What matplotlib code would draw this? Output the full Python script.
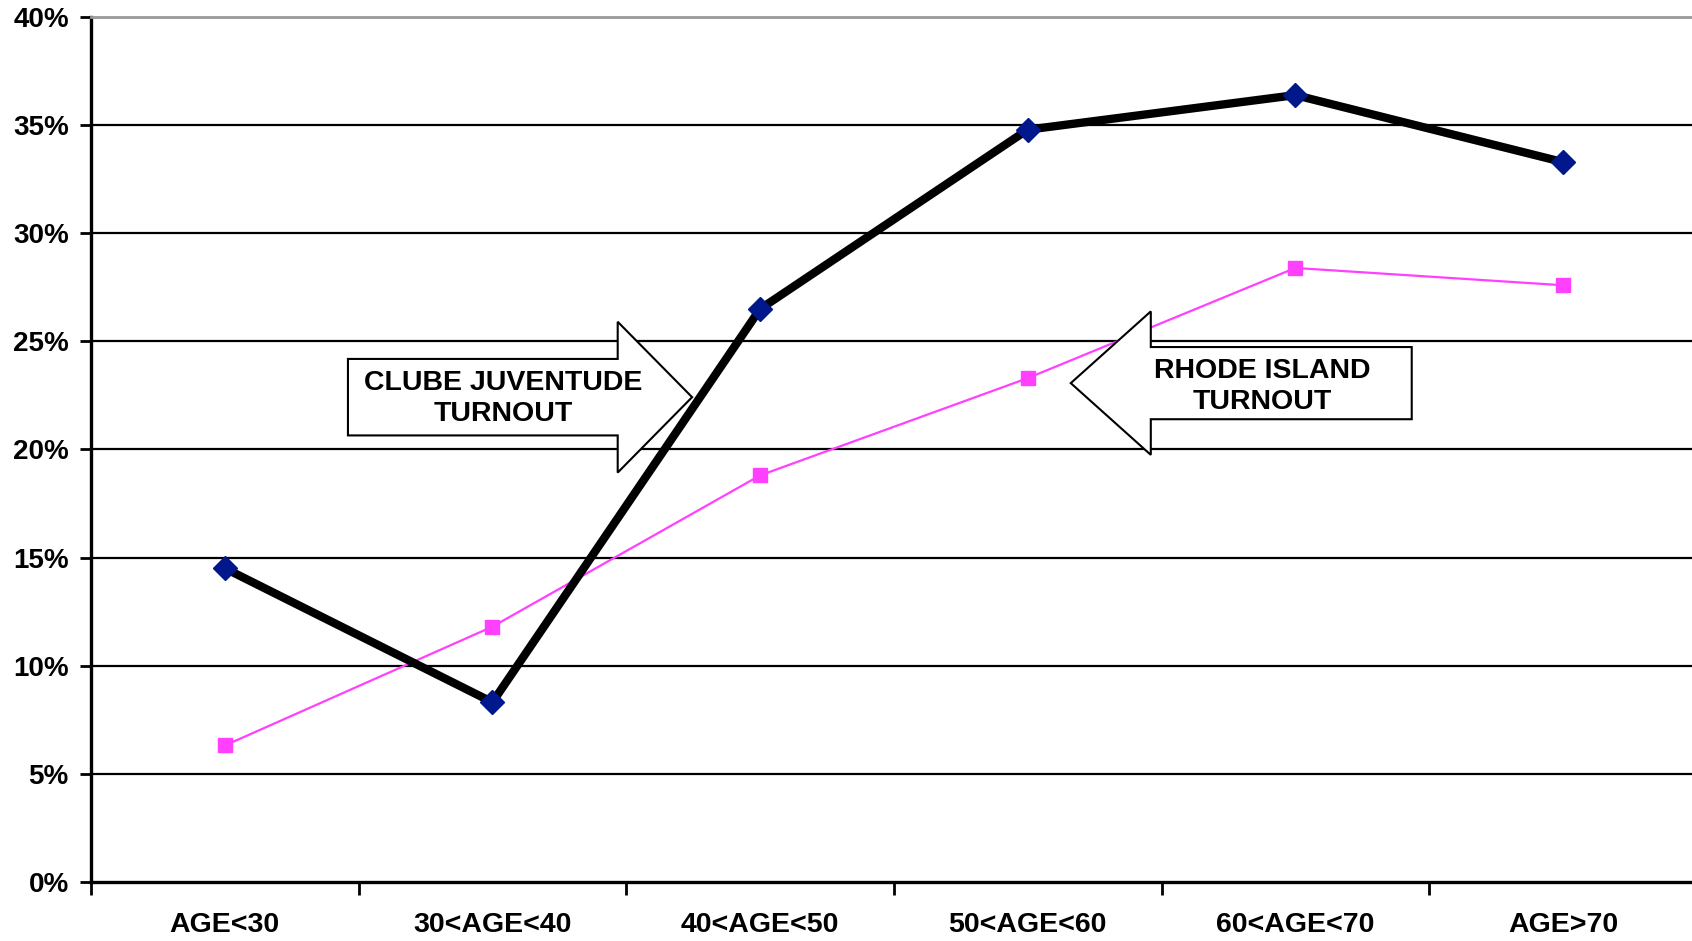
import matplotlib.pyplot as plt
from matplotlib.patches import Polygon

plt.rcParams['font.family'] = ['Liberation Sans', 'DejaVu Sans']
plt.rcParams['font.weight'] = 'bold'

# 数据
categories = ['AGE<30', '30<AGE<40', '40<AGE<50', '50<AGE<60', '60<AGE<70', 'AGE>70']
clube_turnout = [14.5, 8.3, 26.5, 34.8, 36.4, 33.3]
rhode_turnout = [6.3, 11.8, 18.8, 23.3, 28.4, 27.6]
y_ticks = [0, 5, 10, 15, 20, 25, 30, 35, 40]
y_labels = [f'{v}%' for v in y_ticks]

NAVY = '#00188c'
MAGENTA = '#ff40ff'


def arrow_shape(tail_x, base_x, tip_x, cy, body_half, head_half):
    """箭头多边形（数据坐标），左右方向都可以"""
    return [(tail_x, cy - body_half), (base_x, cy - body_half), (base_x, cy - head_half),
            (tip_x, cy), (base_x, cy + head_half), (base_x, cy + body_half),
            (tail_x, cy + body_half)]


fig = plt.figure(figsize=(16.92, 9.41), dpi=100)
ax = fig.add_axes([0.0538, 0.0631, 0.949, 0.9185])

x = list(range(len(categories)))
ax.plot(x, rhode_turnout, color=MAGENTA, lw=1.6, marker='s', markersize=10,
        markerfacecolor=MAGENTA, markeredgecolor=MAGENTA, zorder=3)
ax.plot(x, clube_turnout, color='black', lw=6, marker='D', markersize=12,
        markerfacecolor=NAVY, markeredgecolor=NAVY, zorder=5, clip_on=False)

# 注释箭头
ax.add_patch(Polygon(arrow_shape(0.46, 1.468, 1.746, 22.42, 1.77, 3.49),
                     closed=True, fc='white', ec='black', lw=1.5, zorder=4))
ax.text(1.04, 22.35, 'CLUBE JUVENTUDE\nTURNOUT', ha='center', va='center',
        fontsize=20.5, fontweight='bold', linespacing=1.25, zorder=4.5)
ax.add_patch(Polygon(arrow_shape(4.435, 3.46, 3.161, 23.07, 1.67, 3.32),
                     closed=True, fc='white', ec='black', lw=1.5, zorder=4))
ax.text(3.875, 22.9, 'RHODE ISLAND\nTURNOUT', ha='center', va='center',
        fontsize=20.5, fontweight='bold', linespacing=1.25, zorder=4.5)

# 坐标轴
ax.set_xlim(-0.5, 5.5)
ax.set_ylim(0, 40)
ax.set_yticks(y_ticks)
ax.set_yticklabels(y_labels, fontsize=20, fontweight='bold')
ax.tick_params(axis='y', length=8, width=2, pad=8, direction='out')

ax.set_xticks([i - 0.5 for i in range(len(categories) + 1)])
ax.set_xticklabels([])
ax.set_xticks(x, minor=True)
ax.set_xticklabels(categories, minor=True, fontsize=20.5, fontweight='bold')
ax.tick_params(axis='x', which='major', length=9, width=2, direction='out')
ax.tick_params(axis='x', which='minor', length=0, pad=22)

for v in y_ticks[1:-1]:
    ax.axhline(v, color='black', lw=1.6, zorder=1)

ax.spines['left'].set_linewidth(2.4)
ax.spines['bottom'].set_linewidth(2.4)
ax.spines['top'].set_color('#999999')
ax.spines['top'].set_linewidth(2)
ax.spines['right'].set_visible(False)

plt.savefig('out.png', dpi=100)
plt.close()
